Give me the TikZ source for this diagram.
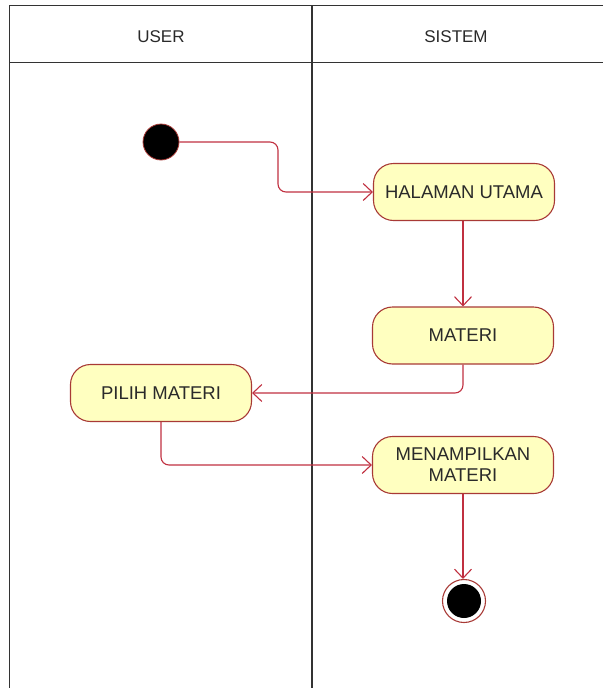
\documentclass[tikz,border=0pt]{standalone}
\usepackage{fontspec}
\setmainfont{Liberation Sans}
\usetikzlibrary{arrows.meta}
\definecolor{laneline}{HTML}{333333}
\definecolor{flowred}{HTML}{C03040}
\definecolor{actfill}{HTML}{FFFFC0}
\definecolor{actedge}{HTML}{A83A36}
\definecolor{labeltext}{HTML}{2A2A2A}
\tikzset{
  lane/.style={draw=laneline, line width=1.4pt},
  lanetitle/.style={text=labeltext, font=\fontsize{17}{20}\selectfont},
  activity/.style={draw=actedge, fill=actfill, line width=1.1pt,
    rounded corners=20pt, minimum width=181pt, minimum height=57pt,
    inner sep=0pt, align=center, text=labeltext,
    font=\fontsize{18.5}{21}\selectfont},
  flow/.style={draw=flowred, line width=1.1pt, rounded corners=8pt,
    -{Straight Barb[length=9pt,width=17pt,line width=1.1pt]}},
  startdot/.style={circle, fill=black, draw=actedge, line width=0.8pt,
    minimum size=36pt, inner sep=0pt},
  enddot/.style={circle, draw=actedge, fill=white, line width=1.1pt,
    minimum size=43pt, inner sep=0pt}
}
\begin{document}
\begin{tikzpicture}[x=1pt, y=-1pt]
  \useasboundingbox (0,0) rectangle (603,688);
  % swimlane frame
  \draw[lane] (603,5.5) -- (9.5,5.5) -- (9.5,688);
  \draw[lane] (9.5,62.5) -- (603,62.5);
  \draw[lane] (312,5.5) -- (312,688);
  \node[lanetitle] (lu) at (161,37) {USER};
  \node[lanetitle] (ls) at (456,37) {SISTEM};

  % activity nodes
  \node[startdot] (st) at (161,142) {};
  \node[activity] (hal) at (464,192) {HALAMAN UTAMA};
  \node[activity] (mat) at (463,335.5) {MATERI};
  \node[activity] (pil) at (161,393) {PILIH MATERI};
  \node[activity] (men) at (463,465) {MENAMPILKAN\\MATERI};
  \node[enddot] (en) at (464,601) {};
  \node[circle, fill=black, minimum size=34pt, inner sep=0pt] (enc) at (en) {};

  % control flow
  \coordinate (b1) at (278,142);
  \draw[flow] (st.east) -- (b1) |- (hal.west);
  \draw[flow] (hal.south -| mat.north) -- (mat.north);
  \draw[flow] (mat.south) |- (pil.east);
  \draw[flow] (pil.south) |- (men.west);
  \draw[flow] (men.south) -- (men.south |- en.north);
\end{tikzpicture}
\end{document}
